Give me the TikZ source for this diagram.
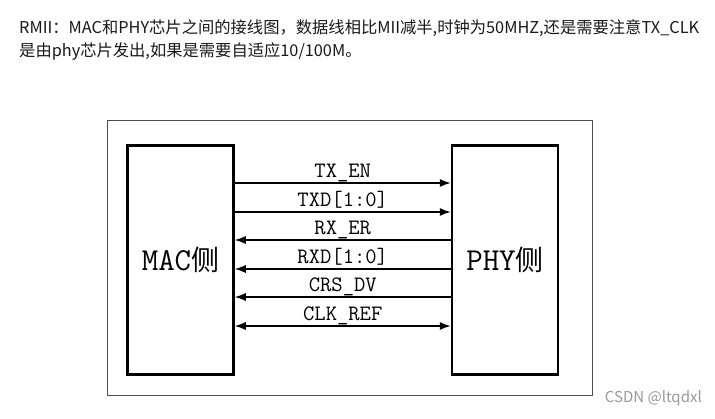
\documentclass[tikz,border=0pt]{standalone}
\usepackage{fontspec}
\setmainfont{Noto Sans CJK SC}
\newfontfamily\cjkfont{Noto Sans CJK SC}
\usetikzlibrary{arrows.meta}

\tikzset{
	headline/.style={anchor=base west, inner sep=0pt, text=black!90, font=\fontsize{16.3}{16}\selectfont},
	chipbox/.style={draw, line width=2.5pt, minimum width=106pt, minimum height=229pt, font=\ttfamily\fontsize{32}{32}\selectfont},
	siglabel/.style={midway, anchor=base, yshift=5.5pt, inner sep=0pt, font=\ttfamily\fontsize{22}{22}\selectfont}
}

\begin{document}
\begin{tikzpicture}[x=1pt, y=-1pt, >={Latex[length=11pt,width=8pt]}]
	\useasboundingbox (0,0) rectangle (715,418);

	\node[headline] (line1) at (19,33) {RMII：MAC和PHY芯片之间的接线图，数据线相比MII减半,时钟为50MHZ,还是需要注意TX\_CLK};
	\node[headline] (line2) at (19,56) {是由phy芯片发出,如果是需要自适应10/100M。};

	\draw[gray!60!black, line width=0.9pt] (107,120) rectangle (592,395);

	\node[chipbox] (mac) at (180.5,260) {MAC{\cjkfont\fontsize{28}{28}\selectfont 侧}};
	\node[chipbox] (phy) at (505,260) {PHY{\cjkfont\fontsize{28}{28}\selectfont 侧}};

	\foreach \y/\name/\tip in {183/TX\_EN/->, 212/{TXD[1:0]}/->, 240/RX\_ER/<-, 269/{RXD[1:0]}/<-, 297/CRS\_DV/<-, 326/CLK\_REF/<->}
		\draw[\tip, line width=1.3pt] (mac.east |- 0,\y) -- node[siglabel] {\name} (phy.west |- 0,\y);

	\node[anchor=base east, inner sep=0pt, text=gray!80, font=\fontsize{15}{15}\selectfont] (mark) at (702,402) {CSDN @ltqdxl};
\end{tikzpicture}
\end{document}
